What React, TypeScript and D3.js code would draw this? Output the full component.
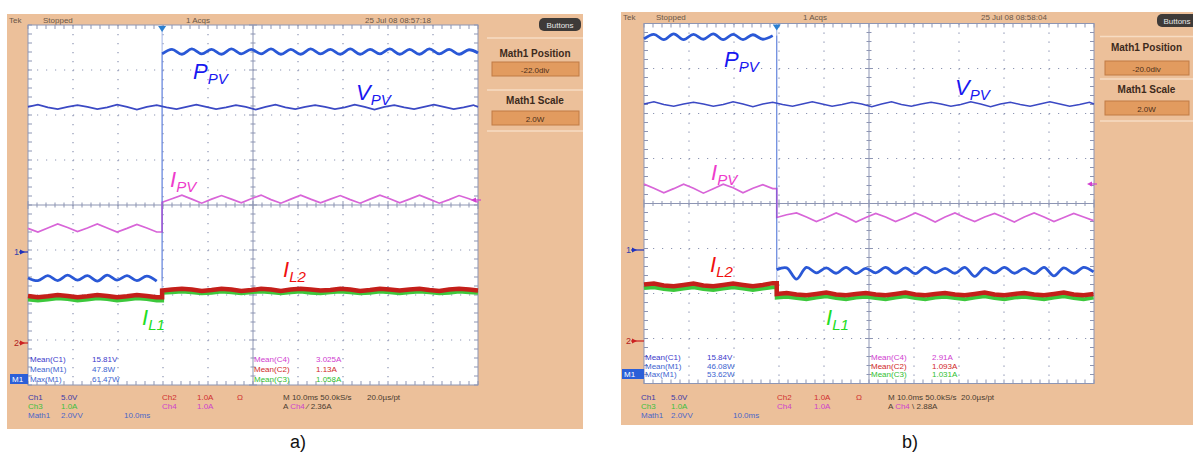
import React from "react";
import * as d3 from "d3";

// ---------- shared time base ----------
const sweepMs = 100; // 10 div x 10 ms/div
const sampleStepMs = 2.2;
const stepTimeA = 29.8;
const stepTimeB = 29.5;

// ---------- panel a (values in divisions from screen centre) ----------
const aPpvBefore = [-1.62, -1.68, -1.57, -1.68, -1.56, -1.67, -1.57, -1.69, -1.56, -1.67, -1.57, -1.68, -1.58, -1.69];
const aPpvAfter = [3.36, 3.46, 3.35, 3.47, 3.36, 3.46, 3.35, 3.47, 3.36, 3.46, 3.36, 3.47, 3.35, 3.46, 3.35, 3.47, 3.36, 3.46, 3.35, 3.47, 3.35, 3.46, 3.36, 3.47, 3.35, 3.46, 3.35, 3.47, 3.36, 3.46, 3.35, 3.45, 3.38];
const aVpv = [2.18, 2.23, 2.17, 2.13, 2.18, 2.22, 2.18, 2.13, 2.17, 2.23, 2.18, 2.12, 2.18, 2.22, 2.17, 2.13, 2.18, 2.23, 2.18, 2.13, 2.17, 2.22, 2.18, 2.12, 2.18, 2.23, 2.17, 2.13, 2.18, 2.22, 2.18, 2.13, 2.17, 2.23, 2.18, 2.12, 2.18, 2.22, 2.17, 2.13, 2.18, 2.23, 2.18, 2.13, 2.17, 2.22, 2.18];
const aIpvBefore = [-0.52, -0.60, -0.51, -0.42, -0.50, -0.59, -0.51, -0.42, -0.51, -0.60, -0.52, -0.43, -0.51, -0.60];
const aIpvAfter = [0.06, 0.14, 0.22, 0.13, 0.04, 0.13, 0.21, 0.13, 0.05, 0.14, 0.22, 0.12, 0.04, 0.13, 0.22, 0.13, 0.05, 0.13, 0.21, 0.12, 0.04, 0.13, 0.22, 0.14, 0.05, 0.13, 0.22, 0.13, 0.04, 0.12, 0.21, 0.14, 0.06];
const aIl2Before = [-2.02, -2.05, -2.03, -2.00, -2.02, -2.05, -2.03, -2.00, -2.02, -2.05, -2.03, -2.00, -2.02, -2.05];
const aIl2After = [-1.90, -1.88, -1.86, -1.88, -1.91, -1.89, -1.86, -1.88, -1.91, -1.89, -1.86, -1.88, -1.91, -1.88, -1.86, -1.88, -1.90, -1.89, -1.86, -1.88, -1.91, -1.89, -1.86, -1.88, -1.90, -1.88, -1.86, -1.89, -1.91, -1.88, -1.86, -1.88, -1.90];
const aIl1Before = [-2.10, -2.12, -2.10, -2.07, -2.09, -2.12, -2.10, -2.07, -2.09, -2.12, -2.10, -2.07, -2.09, -2.12];
const aIl1After = [-1.95, -1.94, -1.92, -1.94, -1.96, -1.95, -1.92, -1.94, -1.96, -1.94, -1.92, -1.94, -1.96, -1.94, -1.92, -1.95, -1.96, -1.94, -1.92, -1.94, -1.96, -1.95, -1.92, -1.94, -1.96, -1.94, -1.92, -1.94, -1.96, -1.95, -1.92, -1.94, -1.95];

// ---------- panel b ----------
const bPpvBefore = [3.66, 3.76, 3.64, 3.77, 3.64, 3.76, 3.65, 3.77, 3.64, 3.76, 3.64, 3.75, 3.65, 3.73];
const bPpvAfter = [-1.47, -1.43, -1.68, -1.42, -1.54, -1.43, -1.55, -1.42, -1.56, -1.44, -1.54, -1.42, -1.55, -1.43, -1.56, -1.42, -1.54, -1.44, -1.55, -1.42, -1.62, -1.43, -1.54, -1.42, -1.55, -1.44, -1.56, -1.42, -1.61, -1.43, -1.55, -1.42, -1.52];
const bVpv = [2.21, 2.26, 2.20, 2.16, 2.21, 2.25, 2.21, 2.16, 2.20, 2.26, 2.21, 2.15, 2.21, 2.25, 2.20, 2.16, 2.21, 2.26, 2.21, 2.16, 2.20, 2.25, 2.21, 2.15, 2.21, 2.26, 2.20, 2.16, 2.21, 2.25, 2.21, 2.16, 2.20, 2.26, 2.21, 2.15, 2.21, 2.25, 2.20, 2.16, 2.21, 2.26, 2.21, 2.16, 2.20, 2.25, 2.21];
const bIpvBefore = [0.43, 0.34, 0.24, 0.33, 0.43, 0.34, 0.23, 0.33, 0.43, 0.35, 0.24, 0.34, 0.42, 0.33];
const bIpvAfter = [-0.31, -0.25, -0.21, -0.30, -0.40, -0.31, -0.21, -0.30, -0.41, -0.31, -0.22, -0.30, -0.40, -0.31, -0.21, -0.30, -0.41, -0.30, -0.21, -0.31, -0.40, -0.30, -0.22, -0.31, -0.41, -0.30, -0.21, -0.30, -0.40, -0.31, -0.22, -0.30, -0.38];
const bIl2Before = [-1.80, -1.78, -1.82, -1.84, -1.81, -1.78, -1.82, -1.84, -1.81, -1.78, -1.81, -1.84, -1.81, -1.77];
const bIl2After = [-2.01, -1.99, -2.02, -2.04, -2.01, -1.98, -2.02, -2.04, -2.01, -1.99, -2.02, -2.04, -2.01, -1.98, -2.02, -2.04, -2.01, -1.99, -2.02, -2.04, -2.01, -1.98, -2.02, -2.04, -2.01, -1.99, -2.02, -2.04, -2.01, -1.98, -2.02, -2.04, -2.01];
const bIl1Before = [-1.88, -1.86, -1.90, -1.92, -1.89, -1.86, -1.90, -1.92, -1.89, -1.86, -1.89, -1.92, -1.89, -1.86];
const bIl1After = [-2.09, -2.07, -2.10, -2.13, -2.09, -2.06, -2.10, -2.13, -2.09, -2.07, -2.10, -2.13, -2.09, -2.06, -2.10, -2.13, -2.09, -2.07, -2.10, -2.13, -2.09, -2.06, -2.10, -2.13, -2.09, -2.07, -2.10, -2.13, -2.09, -2.06, -2.10, -2.13, -2.09];

// ---------- texts ----------
const aHeader = ["Tek", "Stopped", "1 Acqs", "25 Jul 08 08:57:18"];
const bHeader = ["Tek", "Stopped", "1 Acqs", "25 Jul 08 08:58:04"];
const aMathPos = "-22.0div";
const bMathPos = "-20.0div";
const mathScale = "2.0W";
const readoutLabelsLeft = ["Mean(C1)", "Mean(M1)", "Max(M1)"];
const readoutLabelsRight = ["Mean(C4)", "Mean(C2)", "Mean(C3)"];
const aReadLeft = ["15.81V", "47.8W", "61.47W"];
const aReadRight = ["3.025A", "1.13A", "1.058A"];
const bReadLeft = ["15.84V", "46.08W", "53.62W"];
const bReadRight = ["2.91A", "1.093A", "1.031A"];
const aTrigger = "2.36A";
const bTrigger = "2.88A";
const aTimeLine = "M 10.0ms 50.0kS/s";
const bTimeLine = "M 10.0ms 50.0kS/s";

const FONT = "'Liberation Sans', Arial, sans-serif";
const ORANGE = "#ecc09a";
const COL = {
  ppv: "#2a58d6",
  vpv: "#3b49c4",
  ipv: "#d865d8",
  il2: "#c41f1a",
  il1: "#3cc83c",
};

type Geo = {
  fx0: number; fx1: number; fy0: number; fy1: number;
  gx0: number; gx1: number; gy0: number; gy1: number;
  rp: number; rp1: number;
  step: number;
  header: number[]; headerY: number;
  btn: [number, number, number, number];
  posTitleY: number; posBoxY: number; scaleTitleY: number; scaleBoxY: number;
  readY: number[]; readX: number[];
  m1Box: [number, number];
  statusX: number[]; statusY: number[];
  caption: string; captionX: number;
  marker1Y: number; marker2Y: number; markerX: number; ch4MarkY: number;
  labels: { ppv: [number, number]; vpv: [number, number]; ipv: [number, number]; il2: [number, number]; il1: [number, number] };
};

type Dat = {
  ppvB: number[]; ppvA: number[]; vpv: number[]; ipvB: number[]; ipvA: number[];
  il2B: number[]; il2A: number[]; il1B: number[]; il1A: number[];
  headerTxt: string[]; mathPos: string; readL: string[]; readR: string[]; trig: string; timeLine: string; trigSlope: string;
};

function Sub({ x, y, main, sub, color }: { x: number; y: number; main: string; sub: string; color: string }) {
  return (
    <text x={x} y={y} fill={color} fontFamily={FONT} fontStyle="italic" fontSize={22}>
      {main}
      <tspan fontSize={15} dy={5}>{sub}</tspan>
    </text>
  );
}

function Panel({ g, d }: { g: Geo; d: Dat }) {
  const x = d3.scaleLinear().domain([0, sweepMs]).range([g.gx0, g.gx1]);
  const y = d3.scaleLinear().domain([-4, 4]).range([g.gy1, g.gy0]);
  const before = (v: number[]) => v.map((val, i) => [i * sampleStepMs, val] as [number, number]);
  const after = (v: number[]) => v.map((val, i) => [Math.min(sweepMs, g.step + i * sampleStepMs), val] as [number, number]);
  const full = (v: number[]) => v.map((val, i) => [Math.min(sweepMs, i * sampleStepMs), val] as [number, number]);
  const lin = d3.line<[number, number]>().x((p) => x(p[0])).y((p) => y(p[1]));
  const smooth = d3.line<[number, number]>().x((p) => x(p[0])).y((p) => y(p[1])).curve(d3.curveCatmullRom);
  const withStep = (b: number[], a: number[]) => {
    const pts = before(b);
    pts.push([g.step, b[b.length - 1]]);
    return pts.concat(after(a));
  };

  const divX = d3.range(0, 11).map((i) => i * 10);
  const divY = d3.range(-4, 5);
  const minorX = d3.range(0, 101, 2);
  const minorY = d3.range(-20, 21).map((k) => k / 5);
  const gridC = "#8d95b3";
  const midX = x(50), midY = y(0);
  const rpC = (g.rp + g.rp1) / 2;

  return (
    <g>
      {/* frame */}
      <rect x={g.fx0} y={g.fy0} width={g.fx1 - g.fx0} height={g.fy1 - g.fy0} fill={ORANGE} />
      {/* header */}
      {d.headerTxt.map((t, i) => (
        <text key={i} x={g.header[i]} y={g.headerY} fontFamily={FONT} fontSize={8} fill="#6a5646">{t}</text>
      ))}
      <rect x={g.btn[0]} y={g.btn[1]} width={g.btn[2]} height={g.btn[3]} rx={5} fill="#3e3a38" />
      <text x={g.btn[0] + g.btn[2] / 2} y={g.btn[1] + g.btn[3] / 2 + 3} textAnchor="middle" fontFamily={FONT} fontSize={8} fill="#e6e6e6">Buttons</text>
      {/* right panel */}
      <line x1={g.rp} x2={g.rp1} y1={g.gy0 + 13} y2={g.gy0 + 13} stroke="#f7dcc3" strokeWidth={1.5} />
      <line x1={g.rp} x2={g.rp1} y1={g.scaleTitleY - 14} y2={g.scaleTitleY - 14} stroke="#f7dcc3" strokeWidth={1.5} />
      <line x1={g.rp} x2={g.rp1} y1={g.scaleBoxY + 20} y2={g.scaleBoxY + 20} stroke="#f7dcc3" strokeWidth={1.5} />
      <text x={rpC} y={g.posTitleY} textAnchor="middle" fontFamily={FONT} fontWeight="bold" fontSize={10} fill="#3d2a1c">Math1 Position</text>
      <rect x={g.rp + 5} y={g.posBoxY} width={g.rp1 - g.rp - 9} height={14} fill="#e29b5f" stroke="#c07b45" />
      <text x={rpC} y={g.posBoxY + 10.5} textAnchor="middle" fontFamily={FONT} fontSize={8} fill="#4a2e1a">{d.mathPos}</text>
      <text x={rpC} y={g.scaleTitleY} textAnchor="middle" fontFamily={FONT} fontWeight="bold" fontSize={10} fill="#3d2a1c">Math1 Scale</text>
      <rect x={g.rp + 5} y={g.scaleBoxY} width={g.rp1 - g.rp - 9} height={14} fill="#e29b5f" stroke="#c07b45" />
      <text x={rpC} y={g.scaleBoxY + 10.5} textAnchor="middle" fontFamily={FONT} fontSize={8} fill="#4a2e1a">{mathScale}</text>

      {/* screen */}
      <rect x={g.gx0} y={g.gy0} width={g.gx1 - g.gx0} height={g.gy1 - g.gy0} fill="#ffffff" stroke={gridC} strokeWidth={1} />
      {divX.slice(1, -1).filter((t) => t !== 50).map((t) => (
        <line key={"vx" + t} x1={x(t)} x2={x(t)} y1={g.gy0} y2={g.gy1} stroke={gridC} strokeWidth={1.2} strokeDasharray={`1.2 ${(g.gy1 - g.gy0) / 40 - 1.2}`} />
      ))}
      {divY.slice(1, -1).filter((v) => v !== 0).map((v) => (
        <line key={"hy" + v} x1={g.gx0} x2={g.gx1} y1={y(v)} y2={y(v)} stroke={gridC} strokeWidth={1.2} strokeDasharray={`1.2 ${(g.gx1 - g.gx0) / 50 - 1.2}`} />
      ))}
      <line x1={midX} x2={midX} y1={g.gy0} y2={g.gy1} stroke={gridC} />
      <line x1={g.gx0} x2={g.gx1} y1={midY} y2={midY} stroke={gridC} />
      {minorX.map((t) => (
        <g key={"mx" + t}>
          <line x1={x(t)} x2={x(t)} y1={midY - (t % 10 === 0 ? 4 : 2.5)} y2={midY + (t % 10 === 0 ? 4 : 2.5)} stroke={gridC} />
          <line x1={x(t)} x2={x(t)} y1={g.gy0} y2={g.gy0 + 4} stroke={gridC} />
          <line x1={x(t)} x2={x(t)} y1={g.gy1} y2={g.gy1 - 4} stroke={gridC} />
        </g>
      ))}
      {minorY.map((v) => (
        <g key={"my" + v}>
          <line y1={y(v)} y2={y(v)} x1={midX - (Math.abs(v % 1) < 1e-6 ? 4 : 2.5)} x2={midX + (Math.abs(v % 1) < 1e-6 ? 4 : 2.5)} stroke={gridC} />
          <line y1={y(v)} y2={y(v)} x1={g.gx0} x2={g.gx0 + 4} stroke={gridC} />
          <line y1={y(v)} y2={y(v)} x1={g.gx1} x2={g.gx1 - 4} stroke={gridC} />
        </g>
      ))}

      {/* trigger line + marker */}
      <line x1={x(g.step)} x2={x(g.step)} y1={g.gy0} y2={y(-2.1)} stroke="#9fb2e6" strokeWidth={1} />
      <path d={`M${x(g.step) - 4},${g.gy0 + 1} L${x(g.step) + 4},${g.gy0 + 1} L${x(g.step)},${g.gy0 + 7} Z`} fill="#2a7fd0" />

      {/* traces */}
      <path d={lin(withStep(d.il1B, d.il1A)) || ""} fill="none" stroke={COL.il1} strokeWidth={4} />
      <path d={lin(withStep(d.il2B, d.il2A)) || ""} fill="none" stroke={COL.il2} strokeWidth={4.5} />
      <path d={lin(withStep(d.ipvB, d.ipvA)) || ""} fill="none" stroke={COL.ipv} strokeWidth={1.7} />
      <path d={lin(full(d.vpv)) || ""} fill="none" stroke={COL.vpv} strokeWidth={1.6} />
      <path d={smooth(before(d.ppvB)) || ""} fill="none" stroke={COL.ppv} strokeWidth={2.8} />
      <path d={smooth(after(d.ppvA)) || ""} fill="none" stroke={COL.ppv} strokeWidth={2.8} />
      <line x1={x(g.step)} x2={x(g.step)} y1={y(d.ppvB[d.ppvB.length - 1])} y2={y(d.ppvA[0])} stroke={COL.ppv} strokeWidth={1} opacity={0.6} />

      {/* ground / level markers */}
      <text x={g.markerX} y={g.marker1Y + 3} fontFamily={FONT} fontSize={9} fill="#3344aa">1</text>
      <path d={`M${g.markerX + 6},${g.marker1Y - 2.5} L${g.markerX + 11},${g.marker1Y} L${g.markerX + 6},${g.marker1Y + 2.5} Z`} fill="#2233bb" />
      <line x1={g.markerX + 5} x2={g.gx0} y1={g.marker1Y} y2={g.marker1Y} stroke="#2233bb" strokeWidth={1.2} />
      <text x={g.markerX} y={g.marker2Y + 3} fontFamily={FONT} fontSize={9} fill="#b02020">2</text>
      <path d={`M${g.markerX + 6},${g.marker2Y - 2.5} L${g.markerX + 11},${g.marker2Y} L${g.markerX + 6},${g.marker2Y + 2.5} Z`} fill="#cc2222" />
      <line x1={g.markerX + 5} x2={g.gx0} y1={g.marker2Y} y2={g.marker2Y} stroke="#cc2222" strokeWidth={1.2} />
      <path d={`M${g.gx1 - 7},${g.ch4MarkY} L${g.gx1 - 2},${g.ch4MarkY - 2.5} L${g.gx1 - 2},${g.ch4MarkY + 2.5} Z`} fill="#d040d0" />
      <line x1={g.gx1 - 4} x2={g.gx1 + 3} y1={g.ch4MarkY} y2={g.ch4MarkY} stroke="#d040d0" strokeWidth={1.2} />

      {/* readouts */}
      {readoutLabelsLeft.map((t, i) => (
        <g key={"rl" + i}>
          <text x={g.readX[0]} y={g.readY[i]} fontFamily={FONT} fontSize={8} fill={i === 0 ? "#3a3acb" : "#3c64d0"}>{t}</text>
          <text x={g.readX[1]} y={g.readY[i]} fontFamily={FONT} fontSize={8} fill={i === 0 ? "#3a3acb" : "#3c64d0"}>{d.readL[i]}</text>
        </g>
      ))}
      {readoutLabelsRight.map((t, i) => {
        const c = ["#d040d0", "#d02828", "#30c030"][i];
        return (
          <g key={"rr" + i}>
            <text x={g.readX[2]} y={g.readY[i]} fontFamily={FONT} fontSize={8} fill={c}>{t}</text>
            <text x={g.readX[3]} y={g.readY[i]} fontFamily={FONT} fontSize={8} fill={c}>{d.readR[i]}</text>
          </g>
        );
      })}
      <rect x={g.m1Box[0]} y={g.m1Box[1]} width={g.gx0 - g.m1Box[0]} height={10} fill="#2b5fd8" />
      <text x={g.m1Box[0] + 2} y={g.m1Box[1] + 8} fontFamily={FONT} fontSize={8} fill="#ffffff">M1</text>

      {/* status lines */}
      <g fontFamily={FONT} fontSize={8}>
        <text x={g.statusX[0]} y={g.statusY[0]} fill="#3a3aa8">Ch1</text>
        <text x={g.statusX[1]} y={g.statusY[0]} fill="#3a3aa8">5.0V</text>
        <text x={g.statusX[0]} y={g.statusY[1]} fill="#3cbf3c">Ch3</text>
        <text x={g.statusX[1]} y={g.statusY[1]} fill="#3cbf3c">1.0A</text>
        <text x={g.statusX[0]} y={g.statusY[2]} fill="#4a66c8">Math1</text>
        <text x={g.statusX[1]} y={g.statusY[2]} fill="#4a66c8">2.0VV</text>
        <text x={g.statusX[2]} y={g.statusY[2]} fill="#4a66c8">10.0ms</text>
        <text x={g.statusX[3]} y={g.statusY[0]} fill="#d03030">Ch2</text>
        <text x={g.statusX[4]} y={g.statusY[0]} fill="#d03030">1.0A</text>
        <text x={g.statusX[5]} y={g.statusY[0]} fill="#d03030">Ω</text>
        <text x={g.statusX[3]} y={g.statusY[1]} fill="#cc44cc">Ch4</text>
        <text x={g.statusX[4]} y={g.statusY[1]} fill="#cc44cc">1.0A</text>
        <text x={g.statusX[6]} y={g.statusY[0]} fill="#4a3c30">{d.timeLine}</text>
        <text x={g.statusX[7]} y={g.statusY[0]} fill="#4a3c30">20.0µs/pt</text>
        <text x={g.statusX[6]} y={g.statusY[1]} fill="#4a3c30">
          A <tspan fill="#cc44cc">Ch4</tspan> {d.trigSlope} {d.trig}
        </text>
      </g>

      {/* trace labels */}
      <Sub x={g.labels.ppv[0]} y={g.labels.ppv[1]} main="P" sub="PV" color="#1818f0" />
      <Sub x={g.labels.vpv[0]} y={g.labels.vpv[1]} main="V" sub="PV" color="#1818f0" />
      <Sub x={g.labels.ipv[0]} y={g.labels.ipv[1]} main="I" sub="PV" color="#ee3ccc" />
      <Sub x={g.labels.il2[0]} y={g.labels.il2[1]} main="I" sub="L2" color="#f01010" />
      <Sub x={g.labels.il1[0]} y={g.labels.il1[1]} main="I" sub="L1" color="#22dd22" />

      <text x={g.captionX} y={448} textAnchor="middle" fontFamily={FONT} fontSize={18} fill="#111">{g.caption}</text>
    </g>
  );
}

const geoA: Geo = {
  fx0: 7, fx1: 583, fy0: 14, fy1: 429,
  gx0: 28, gx1: 478, gy0: 25, gy1: 385,
  rp: 487, rp1: 583,
  step: stepTimeA,
  header: [9, 43, 186, 365], headerY: 23,
  btn: [539, 18, 42, 13],
  posTitleY: 57, posBoxY: 62, scaleTitleY: 104, scaleBoxY: 111,
  readY: [362, 372, 382], readX: [30, 92, 254, 316],
  m1Box: [10, 374],
  statusX: [28, 61, 124, 162, 197, 237, 283, 367], statusY: [400, 409, 418],
  caption: "a)", captionX: 298,
  marker1Y: 252, marker2Y: 343, markerX: 14, ch4MarkY: 200,
  labels: { ppv: [193, 79], vpv: [356, 100], ipv: [170, 187], il2: [283, 277], il1: [142, 325] },
};

const geoB: Geo = {
  fx0: 621, fx1: 1193, fy0: 12, fy1: 425,
  gx0: 644, gx1: 1094, gy0: 23.5, gy1: 383.5,
  rp: 1100, rp1: 1193,
  step: stepTimeB,
  header: [623, 656, 803, 981], headerY: 20,
  btn: [1157, 14, 40, 13],
  posTitleY: 51, posBoxY: 61, scaleTitleY: 93, scaleBoxY: 101,
  readY: [360, 369, 377], readX: [645, 707, 871, 932],
  m1Box: [622, 369],
  statusX: [641, 671, 733, 777, 814, 856, 888, 961], statusY: [400, 409, 418],
  caption: "b)", captionX: 910,
  marker1Y: 250, marker2Y: 341, markerX: 626, ch4MarkY: 184,
  labels: { ppv: [724, 67], vpv: [955, 95], ipv: [711, 180], il2: [710, 272], il1: [826, 325] },
};

const datA: Dat = {
  ppvB: aPpvBefore, ppvA: aPpvAfter, vpv: aVpv, ipvB: aIpvBefore, ipvA: aIpvAfter,
  il2B: aIl2Before, il2A: aIl2After, il1B: aIl1Before, il1A: aIl1After,
  headerTxt: aHeader, mathPos: aMathPos, readL: aReadLeft, readR: aReadRight, trig: aTrigger, timeLine: aTimeLine, trigSlope: "⁄",
};
const datB: Dat = {
  ppvB: bPpvBefore, ppvA: bPpvAfter, vpv: bVpv, ipvB: bIpvBefore, ipvA: bIpvAfter,
  il2B: bIl2Before, il2A: bIl2After, il1B: bIl1Before, il1A: bIl1After,
  headerTxt: bHeader, mathPos: bMathPos, readL: bReadLeft, readR: bReadRight, trig: bTrigger, timeLine: bTimeLine, trigSlope: "\\",
};

export default function App() {
  return (
    <svg width={1193} height={454} style={{ position: "absolute", left: 0, top: 0, background: "#ffffff" }}>
      <rect x={0} y={0} width={1193} height={454} fill="#ffffff" />
      <Panel g={geoA} d={datA} />
      <Panel g={geoB} d={datB} />
    </svg>
  );
}
